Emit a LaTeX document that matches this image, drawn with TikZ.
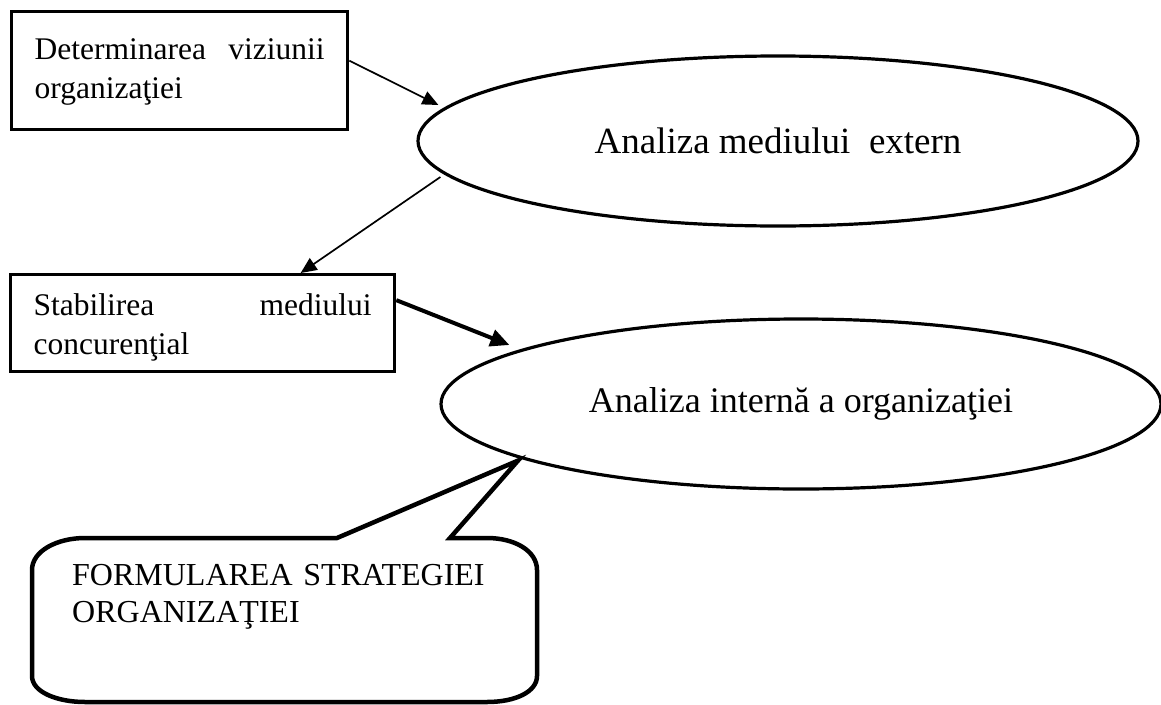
\documentclass[tikz,border=0pt]{standalone}
\usepackage{fontspec}
\setmainfont{Liberation Serif}
\usetikzlibrary{arrows.meta,shapes.geometric}

\tikzset{
  txt/.style={font=\fontsize{31.5}{38.5}\selectfont},
  bigtxt/.style={font=\fontsize{36}{42}\selectfont},
  stepbox/.style={draw, line width=3.3pt, rectangle, inner xsep=23pt, inner ysep=0pt,
    anchor=north west, align=justify, txt},
  oval/.style={draw, line width=3.2pt, ellipse, inner sep=0pt,
    minimum width=720pt, minimum height=170pt, bigtxt},
  thin arrow/.style={line width=1.7pt, -{Triangle[length=16pt,width=14pt]}},
  thick arrow/.style={line width=4pt, -{Triangle[length=19pt,width=17pt]}},
  bubble/.style={draw, line width=4.5pt, line join=miter},
}

\begin{document}
\begin{tikzpicture}[x=1pt, y=-1pt]
  \useasboundingbox (0,0) rectangle (1161,704);

  % process boxes (first line justified, forced break before the last word)
  \node[stepbox, text width=290pt, text height=48pt, text depth=70pt] (b1) at (10,10)
    {Determinarea viziunii\linebreak organizaţiei};
  \node[stepbox, text width=338pt, text height=41pt, text depth=56pt] (b2) at (9,273)
    {Stabilirea mediului\linebreak concurenţial};

  % analysis ellipses (text sits a little left of centre)
  \node[oval, font=\fontsize{37}{42}\selectfont] (e1) at (778,141)
    {Analiza mediului\ \ extern\hspace{42pt}};
  \node[oval] (e2) at (801,404) {Analiza internă a organizaţiei\hspace{22pt}};

  % connectors
  \draw[thin arrow] ([yshift=10pt]b1.east) -- ([shift={(22pt,36pt)}]e1.west);
  \draw[thin arrow] ([shift={(24pt,-36pt)}]e1.west) -- ([xshift=98pt]b2.north);
  \draw[thick arrow] ([yshift=23pt]b2.east) -- ([shift={(70pt,59pt)}]e2.west);

  % speech bubble pointing at the internal analysis
  \coordinate (tip) at ([shift={(-283pt,30pt)}]e2.south);
  \draw[bubble]
    (85,538) -- (337,538) -- (tip) -- (450,538) -- (487,538)
    .. controls (515,538) and (537,551) .. (537,570)
    -- (537,676)
    .. controls (537,692) and (515,702) .. (487,702)
    -- (85,702)
    .. controls (57,702) and (32,692) .. (32,676)
    -- (32,570)
    .. controls (32,551) and (57,538) .. (85,538) -- cycle;
  \node[anchor=base west, align=left, inner sep=0pt, text width=460pt,
        font=\fontsize{32}{37}\selectfont] (ft) at (72,585)
    {FORMULAREA STRATEGIEI\\ORGANIZAŢIEI};
\end{tikzpicture}
\end{document}
